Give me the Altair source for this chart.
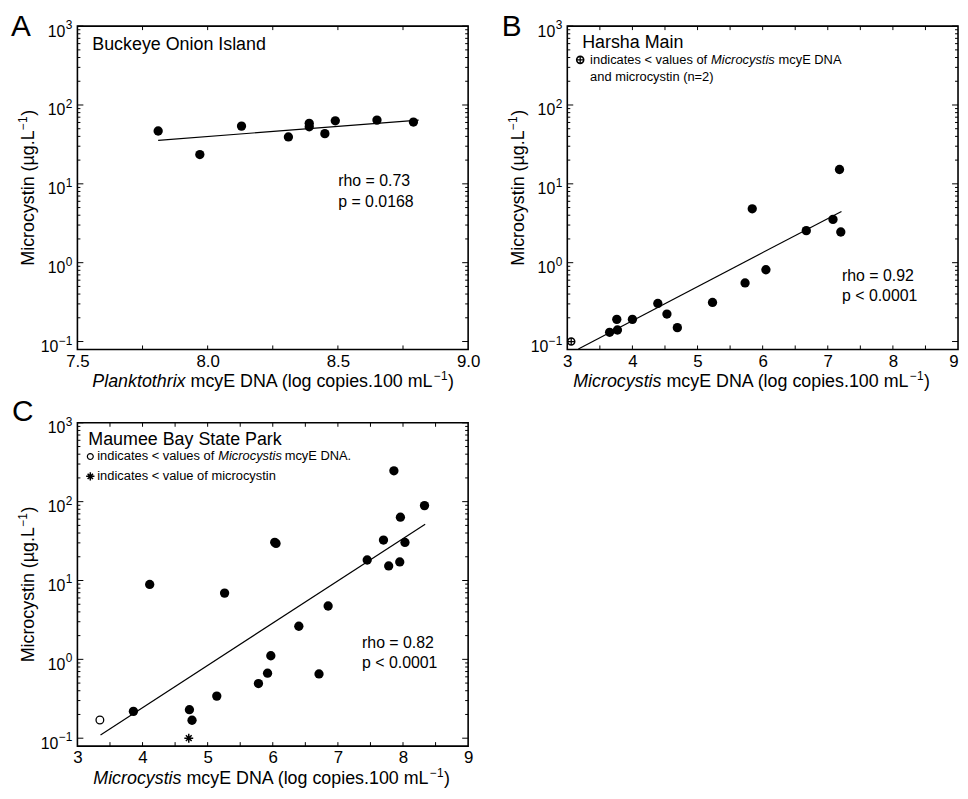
import altair as alt
import pandas as pd

FONT = "Liberation Sans"
W, H = 394, 326
Y_DOMAIN = [0.0794, 1000]

# ---- axis tick values / labels ----
y_major = [0.1, 1, 10, 100, 1000]
y_major_exp = ["−1", "0", "1", "2", "3"]
y_minor = [round(m * 10 ** k, 6) for k in range(-1, 3) for m in range(2, 10)]

a_x_labels = [7.5, 8.0, 8.5, 9.0]
a_x_ticks = [7.75, 8.0, 8.25, 8.5, 8.75]
bc_x_labels = [3, 4, 5, 6, 7, 8, 9]
bc_x_ticks = [3.5, 4, 4.5, 5, 5.5, 6, 6.5, 7, 7.5, 8, 8.5]

# ---- Panel A: Buckeye Onion Island ----
a_x = [7.81, 7.97, 8.13, 8.31, 8.39, 8.39, 8.45, 8.49, 8.65, 8.79]
a_y = [46.8, 23.5, 54.0, 39.3, 58.5, 53.0, 43.3, 63.0, 64.3, 60.7]
a_fit_x = [7.81, 8.81]
a_fit_y = [35.6, 64.3]

# ---- Panel B: Harsha Main ----
b_x = [3.65, 3.76, 3.77, 4.00, 4.39, 4.53, 4.69, 5.23, 5.73, 5.84, 6.05, 6.67, 7.08, 7.18, 7.20]
b_y = [0.131, 0.191, 0.140, 0.191, 0.304, 0.223, 0.150, 0.313, 0.553, 4.82, 0.814, 2.55, 3.54, 15.2, 2.45]
b_cens_x = [3.06]
b_cens_y = [0.1]
b_fit_x = [3.17, 7.21]
b_fit_y = [0.0805, 4.47]

# ---- Panel C: Maumee Bay State Park ----
c_x = [3.86, 4.11, 4.72, 4.76, 5.14, 5.26, 5.78, 5.92, 5.97, 6.03, 6.05, 6.40, 6.71,
       6.85, 7.45, 7.70, 7.78, 7.86, 7.95, 7.96, 8.03, 8.33]
c_y = [0.219, 8.91, 0.230, 0.169, 0.342, 6.92, 0.493, 0.667, 1.11, 30.5, 29.5, 2.63, 0.653,
       4.75, 18.2, 32.6, 15.3, 246, 17.2, 63.5, 30.4, 89.1]
c_open_x = [3.345]
c_open_y = [0.170]
c_star_x = [4.71]
c_star_y = [0.1]
c_fit_x = [3.355, 8.34]
c_fit_y = [0.110, 51.8]

CROSS = "M-1,0L1,0M0,-1L0,1"
STAR = "M-1,0L1,0M0,-1L0,1M-0.65,-0.65L0.65,0.65M-0.65,0.65L0.65,-0.65"

# Arial / Liberation Sans advance widths (per 1000 em) for text layout
CW = {" ": 278, "(": 333, ")": 333, ".": 278, "0": 556, "1": 556, "A": 667, "D": 722,
      "E": 667, "L": 556, "N": 722, "M": 833, "c": 500, "e": 556, "g": 556, "i": 222,
      "l": 222, "m": 833, "n": 556, "o": 556, "p": 556, "r": 333, "s": 500, "t": 278,
      "y": 500, "µ": 576, "−": 584}


def tw(s, size):
    return sum(CW.get(ch, 556) for ch in s) * size / 1000.0


yscale = alt.Scale(type="log", domain=Y_DOMAIN, nice=False)


def xaxis(values, fmt, label_align=None):
    kw = dict(values=values, format=fmt, title=None, labelFontSize=17, labelPadding=4,
              ticks=False, tickSize=0, domain=False, grid=False, labelFlush=False,
              labelOverlap=False, labelColor="black", labelFont=FONT)
    if label_align is not None:
        kw["labelAlign"] = label_align
    return alt.Axis(**kw)


def dummy():
    return alt.Chart(pd.DataFrame({"d": [0]}))


def txt(s, px, py, size=16, italic=False, align="left", angle=0):
    return dummy().mark_text(text=s, fontSize=size, fontStyle="italic" if italic else "normal",
                             align=align, baseline="alphabetic", color="black", font=FONT,
                             angle=angle).encode(x=alt.value(px), y=alt.value(py))


def sym(px, py, shape, size, sw=1.2):
    return dummy().mark_point(shape=shape, size=size, filled=False, color="black",
                              strokeWidth=sw, opacity=1).encode(x=alt.value(px), y=alt.value(py))


def x_title(word, x0):
    """italic genus + 'mcyE DNA (log copies.100 mL' + superscript −1 + ')'"""
    fs, ss = 18, 12
    base = H + 38
    rest = "mcyE DNA (log copies.100 mL"
    x1 = x0 + tw(word, fs) + tw(" ", fs)
    x2 = x1 + tw(rest, fs) + 0.5
    x3 = x2 + tw("−1", ss) + 0.5
    return [txt(word, x0, base, size=fs, italic=True),
            txt(rest, x1, base, size=fs),
            txt("−1", x2, base - 7, size=ss),
            txt(")", x3, base, size=fs)]


def y_title():
    fs, ss = 18, 12
    main = "Microcystin (µg.L"
    total = tw(main, fs) + tw("−1", ss) + tw(")", fs) + 1
    y0 = H / 2 + total / 2
    xb = -44
    y1 = y0 - tw(main, fs) - 0.5
    y2 = y1 - tw("−1", ss) - 0.5
    return [txt(main, xb, y0, size=fs, angle=270),
            txt("−1", xb - 7, y1, size=ss, angle=270),
            txt(")", xb, y2, size=fs, angle=270)]


def panel(xdom, xlab, xfmt, xtk, xalign, xs_, ys_, fx, fy, extra_fn, annotations):
    xs = alt.Scale(domain=xdom, nice=False, zero=False)
    xa = xaxis(xlab, xfmt, xalign)

    def X(f):
        return alt.X(f, scale=xs, axis=xa)

    def Y(f):
        return alt.Y(f, scale=yscale, axis=None)

    layers = []
    ymaj = pd.DataFrame({"v": y_major, "e": y_major_exp})
    ymin = pd.DataFrame({"v": y_minor})
    xt = pd.DataFrame({"v": xtk})
    for df, L in [(ymaj, 6), (ymin, 3)]:
        layers.append(alt.Chart(df).mark_rule(color="black", strokeWidth=1).encode(
            y=Y("v:Q"), x=alt.value(0), x2=alt.value(L)))
        layers.append(alt.Chart(df).mark_rule(color="black", strokeWidth=1).encode(
            y=Y("v:Q"), x=alt.value(W - L), x2=alt.value(W)))
    layers.append(alt.Chart(xt).mark_rule(color="black", strokeWidth=1).encode(
        x=X("v:Q"), y=alt.value(H - 4), y2=alt.value(H)))
    layers.append(alt.Chart(xt).mark_rule(color="black", strokeWidth=1).encode(
        x=X("v:Q"), y=alt.value(0), y2=alt.value(4)))
    # y tick labels: "10" + superscript exponent
    one_digit = ymaj[ymaj["e"].str.len() == 1]
    neg = ymaj[ymaj["e"].str.len() > 1]
    for df, xr in [(one_digit, -5 - tw("3", 12) - 0.5), (neg, -5 - tw("−1", 12) - 0.5)]:
        layers.append(alt.Chart(df).mark_text(text="10", fontSize=16, align="right",
                                              baseline="alphabetic", dy=10.5, color="black",
                                              font=FONT).encode(y=Y("v:Q"), x=alt.value(xr)))
    layers.append(alt.Chart(ymaj).mark_text(fontSize=12, align="right", baseline="alphabetic",
                                            dy=3, color="black", font=FONT).encode(
        y=Y("v:Q"), x=alt.value(-5), text="e:N"))
    fit = pd.DataFrame({"x": fx, "y": fy})
    layers.append(alt.Chart(fit).mark_line(color="black", strokeWidth=1.2, clip=True).encode(
        x=X("x:Q"), y=Y("y:Q")))
    pts = pd.DataFrame({"x": xs_, "y": ys_})
    layers.append(alt.Chart(pts).mark_circle(size=88, color="black", opacity=1).encode(
        x=X("x:Q"), y=Y("y:Q")))
    if extra_fn is not None:
        layers += extra_fn(X, Y)
    layers += y_title()
    layers += annotations
    return alt.layer(*layers).properties(width=W, height=H)


# Panel A
A = panel([7.5, 9.0], a_x_labels, ".1f", a_x_ticks, None, a_x, a_y, a_fit_x, a_fit_y, None, [
    txt("A", -67, 10, size=30),
    txt("Buckeye Onion Island", 15, 24, size=18),
    txt("rho = 0.73", 263, 161),
    txt("p = 0.0168", 263, 182),
] + x_title("Planktothrix", 15))


def b_extra(X, Y):
    d = pd.DataFrame({"x": b_cens_x, "y": b_cens_y})
    return [
        alt.Chart(d).mark_point(shape="circle", filled=False, size=50, color="black",
                                strokeWidth=1.6, opacity=1).encode(x=X("x:Q"), y=Y("y:Q")),
        alt.Chart(d).mark_point(shape=CROSS, filled=False, size=50, color="black",
                                strokeWidth=1.3, opacity=1).encode(x=X("x:Q"), y=Y("y:Q")),
    ]


B = panel([3, 9], bc_x_labels, "d", bc_x_ticks,
          {"condition": {"test": "datum.value == 9", "value": "right"}, "value": "center"},
          b_x, b_y, b_fit_x, b_fit_y, b_extra, [
              txt("B", -66, 10, size=30),
              txt("Harsha Main", 15, 22, size=18),
              sym(13, 34, "circle", 50, sw=1.6),
              sym(13, 34, CROSS, 50, sw=1.3),
              txt("indicates < values of", 23, 38, size=13),
              txt("Microcystis", 145, 38, size=13, italic=True),
              txt("mcyE DNA", 213, 38, size=13),
              txt("and microcystin (n=2)", 23, 55, size=13),
              txt("rho = 0.92", 277, 257),
              txt("p < 0.0001", 277, 277),
          ] + x_title("Microcystis", 6))


def c_extra(X, Y):
    d1 = pd.DataFrame({"x": c_open_x, "y": c_open_y})
    d2 = pd.DataFrame({"x": c_star_x, "y": c_star_y})
    return [
        alt.Chart(d1).mark_point(shape="circle", filled=False, size=60, color="black",
                                 strokeWidth=1.3, opacity=1).encode(x=X("x:Q"), y=Y("y:Q")),
        alt.Chart(d2).mark_point(shape=STAR, filled=False, size=80, color="black",
                                 strokeWidth=1.5, opacity=1).encode(x=X("x:Q"), y=Y("y:Q")),
    ]


C = panel([3, 9], bc_x_labels, "d", bc_x_ticks, None, c_x, c_y, c_fit_x, c_fit_y, c_extra, [
    txt("C", -66, -2, size=30),
    txt("Maumee Bay State Park", 11, 22, size=18),
    sym(13, 34, "circle", 36, sw=1.2),
    txt("indicates < values of", 20, 38, size=13),
    txt("Microcystis", 142, 38, size=13, italic=True),
    txt("mcyE DNA.", 209, 38, size=13),
    sym(13, 54, STAR, 70, sw=1.5),
    txt("indicates < value of microcystin", 20, 58, size=13),
    txt("rho = 0.82", 287, 227),
    txt("p < 0.0001", 287, 247),
] + x_title("Microcystis", 16))

chart = alt.concat(A, B, C, columns=2, spacing={"row": 74, "column": 100}, bounds="flush").properties(
    padding={"left": 2, "top": 0, "right": 0, "bottom": 0}
).configure(font=FONT).configure_view(stroke="black", strokeWidth=1.6)

chart.save("out.html", embed_options={"renderer": "svg", "actions": False})
